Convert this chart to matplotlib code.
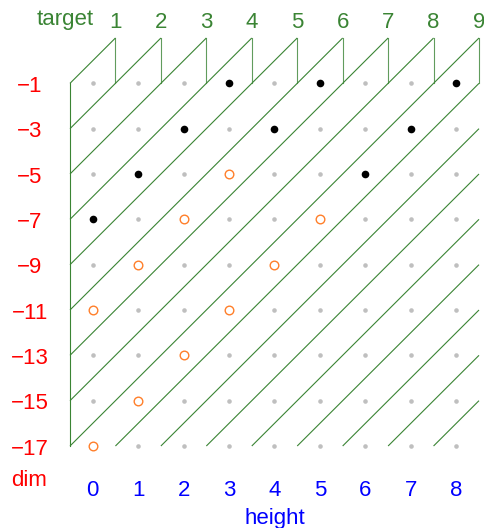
import matplotlib
matplotlib.use("Agg")
import matplotlib.pyplot as plt
from matplotlib.transforms import blended_transform_factory, ScaledTranslation

# grid
heights = [0, 1, 2, 3, 4, 5, 6, 7, 8]
dims = [-1, -3, -5, -7, -9, -11, -13, -15, -17]
targets = [1, 2, 3, 4, 5, 6, 7, 8, 9]

# filled (black) points
black_x = [3, 5, 8, 2, 4, 7, 1, 6, 0]
black_y = [-1, -1, -1, -3, -3, -3, -5, -5, -7]

# open (orange) points
orange_x = [3, 2, 5, 1, 4, 0, 3, 2, 1, 0]
orange_y = [-5, -7, -7, -9, -9, -11, -11, -13, -15, -17]

# diagonal line intercepts (y = 2x + c)
intercepts = [0, -2, -4, -6, -8, -10, -12, -14, -16, -18, -20, -22, -24,
              -26, -28, -30, -32, -34]

GREEN = "#3a8434"
GRAY = "#bfbfbf"
ORANGE = "#ff7f2a"
FONT = "Liberation Sans"

W, H = 485, 528
fig = plt.figure(figsize=(W / 100, H / 100), dpi=100)
x0, x1 = -0.5, 8.5
y0, y1 = -17, 1
ax = fig.add_axes([70 / W, 1 - 446 / H, (479 - 70) / W, (446 - 38) / H])
ax.set_xlim(x0, x1)
ax.set_ylim(y0, y1)
ax.axis("off")

lw = 0.8
# diagonals
for c in intercepts:
    xa = max(x0, (y0 - c) / 2)
    xb = min(x1, (y1 - c) / 2)
    if xb < xa:
        continue
    ax.plot([xa, xb], [2 * xa + c, 2 * xb + c], color=GREEN, lw=lw,
            clip_on=False, solid_capstyle="butt")
# top verticals
for t in targets:
    xv = t - 0.5
    ax.plot([xv, xv], [-1, 1], color=GREEN, lw=lw, clip_on=False, alpha=0.8)
# left vertical
ax.plot([x0, x0], [y0, -1], color=GREEN, lw=lw, clip_on=False)

# gray grid dots
gx = [h for h in heights for d in dims]
gy = [d for h in heights for d in dims]
ax.plot(gx, gy, "o", color=GRAY, ms=3.3, mec="none", clip_on=False, zorder=3)
ax.plot(black_x, black_y, "o", color="black", ms=5.5, mec="none",
        clip_on=False, zorder=4)
ax.plot(orange_x, orange_y, "o", mfc="white", mec=ORANGE, ms=6.2, mew=1.0,
        clip_on=False, zorder=4)

fs = 16
tx_fig = blended_transform_factory(ax.transData, fig.transFigure)
# x tick labels (height)
for h in heights:
    ax.text(h, 1 - 495.5 / H, str(h), transform=tx_fig, color="blue",
            fontsize=fs, family=FONT, ha="center", va="baseline")
# y tick labels (dim)
ty = blended_transform_factory(fig.transFigure, ax.transData) + \
    ScaledTranslation(0, -8.7 / 100, fig.dpi_scale_trans)
for d in dims:
    ax.text(30 / W, d, f"\u2212{abs(d)}", transform=ty, color="red",
            fontsize=fs, family=FONT, ha="center", va="baseline")
# top labels (target)
for t in targets:
    ax.text(t - 0.5, 1 - 28 / H, str(t), transform=tx_fig, color=GREEN,
            fontsize=fs, family=FONT, ha="center", va="baseline")
fig.text(65.5 / W, 1 - 25.5 / H, "target", color=GREEN, fontsize=fs,
         family=FONT, ha="center", va="baseline")
fig.text(29.5 / W, 1 - 486.5 / H, "dim", color="red", fontsize=fs,
         family=FONT, ha="center", va="baseline")
fig.text(274.5 / W, 1 - 524 / H, "height", color="blue", fontsize=fs,
         family=FONT, ha="center", va="baseline")

fig.savefig("out.png", dpi=100)
